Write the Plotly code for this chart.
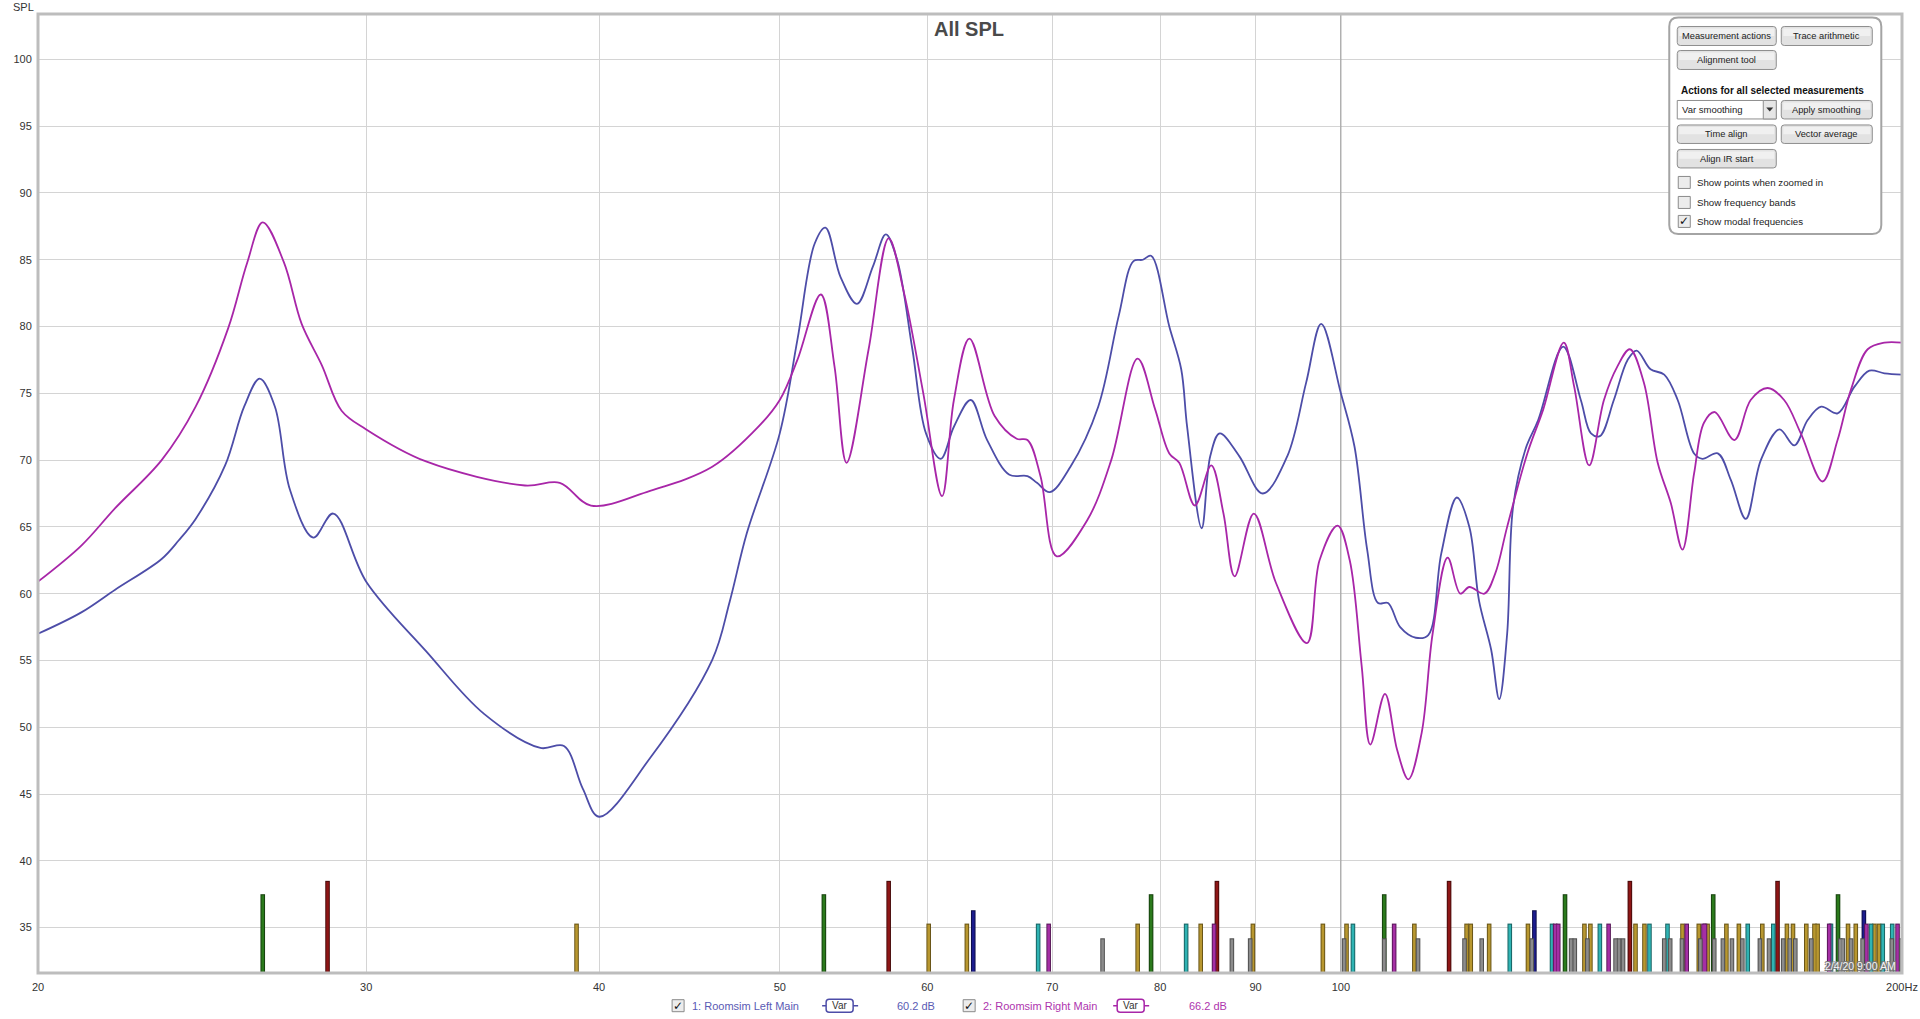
import plotly.graph_objects as go

# ---------------- data ----------------
left_freq = [20.0, 21.1, 22.0, 23.3, 23.8, 24.3, 25.2, 25.8, 26.3, 26.8, 27.3, 28.1, 28.8, 30.0, 32.3, 34.7,
             37.2, 38.3, 39.2, 40.0, 42.6, 46.0, 47.0, 48.0, 50.0, 51.1, 52.2, 52.9, 53.9, 55.0, 56.1, 57.0,
             57.8, 58.9, 59.9, 61.0, 62.0, 63.3, 64.6, 66.4, 67.9, 68.7, 69.8, 71.6, 74.1, 76.0, 77.4,
             78.3, 79.1, 80.9, 82.1, 82.7, 84.2, 85.1, 86.1, 88.2, 90.8, 93.6, 95.8, 97.6, 100.0, 101.7,
             103.3, 104.7, 106.0, 107.6, 109.7, 111.4, 113.2, 115.4, 117.2, 118.6, 120.4, 121.6, 122.8,
             123.7, 125.6, 127.6, 131.6, 134.5, 136.2, 137.7, 140.1, 142.5, 144.1, 146.6, 149.1, 151.6,
             154.7, 156.3, 159.3, 161.9, 164.9, 168.0, 171.9, 175.1, 178.0, 181.0, 184.7, 188.6, 192.1,
             195.7, 200.0]
left_spl = [57.0, 58.6, 60.3, 62.6, 64.0, 65.6, 69.6, 74.0, 76.1, 74.0, 67.8, 64.2, 66.0, 60.9, 55.7, 51.0,
            48.45, 48.6, 45.4, 43.3, 47.7, 55.05, 59.4, 64.5, 72.0, 79.0, 86.2, 87.4, 83.7, 81.7, 84.5, 86.9,
            85.0, 78.3, 72.0, 70.1, 72.5, 74.5, 71.5, 68.9, 68.8, 68.3, 67.6, 69.5, 74.0, 80.8, 84.9,
            85.0, 85.3, 80.0, 76.8, 72.5, 64.9, 70.3, 72.0, 70.3, 67.5, 70.3, 75.8, 80.2, 75.0, 71.0,
            63.3, 59.3, 59.3, 57.5, 56.7, 56.9, 63.0, 67.2, 65.0, 59.5, 55.8, 52.1, 57.0,
            66.5, 70.8, 73.0, 78.5, 74.5, 72.0, 71.8, 74.5, 77.5, 78.2, 76.8, 76.4, 74.5,
            70.5, 70.1, 70.5, 68.5, 65.6, 70.0, 72.3, 71.1, 73.0, 74.0, 73.5, 75.5, 76.7,
            76.5, 76.4]

right_freq = [20.0, 21.1, 22.0, 23.3, 24.3, 25.3, 25.9, 26.4, 27.1, 27.7, 28.4, 29.1, 30.0, 32.3, 36.5,
              38.1, 39.6, 42.6, 46.0, 48.7, 50.0, 51.1, 52.6, 53.5, 54.3, 55.8, 57.2, 58.3, 59.7, 61.1,
              62.0, 63.2, 65.2, 67.0, 67.9, 69.0, 70.4, 73.1, 75.3, 77.8, 79.5, 80.9, 81.9, 83.5, 85.2,
              86.5, 87.7, 89.8, 92.3, 95.9, 97.4, 99.6, 101.1, 102.6, 103.7, 105.6, 107.2, 108.7, 110.5,
              112.0, 114.1, 115.9, 117.2, 119.4, 121.0, 122.8, 125.9, 128.4, 131.7, 133.4, 135.9, 138.4,
              140.7, 142.9, 145.4, 147.9, 150.3, 152.5, 154.7, 156.6, 158.7, 162.6, 165.9, 169.4, 172.9,
              176.5, 181.3, 184.7, 187.8, 191.7, 195.7, 200.0]
right_spl = [60.9, 63.6, 66.4, 70.0, 74.0, 79.9, 84.8, 87.8, 84.8, 80.2, 77.1, 73.7, 72.3, 69.9, 68.1,
             68.3, 66.6, 67.7, 69.5, 72.5, 74.5, 77.5, 82.4, 77.0, 69.8, 78.3, 86.6, 82.5, 75.0, 67.3,
             74.5, 79.1, 73.3, 71.6, 71.5, 68.8, 62.8, 65.5, 70.0, 77.6, 73.8, 70.5, 69.8, 66.6, 69.6,
             66.0, 61.3, 66.0, 60.8, 56.3, 62.5, 65.1, 62.5, 54.6, 48.7, 52.5, 48.3, 46.1, 49.6,
             57.0, 62.7, 60.0, 60.5, 60.0, 61.5, 65.0, 70.5, 73.8, 78.8, 75.5, 69.6, 74.5,
             77.0, 78.3, 75.8, 69.8, 66.8, 63.3, 69.0, 72.8, 73.6, 71.5, 74.5, 75.4, 74.5,
             72.0, 68.4, 71.5, 75.3, 78.3, 78.8, 78.8]

# modal frequencies (Hz), grouped by mode type as coloured in the chart
modes_axial_red = [28.6, 57.2, 85.8, 114.3, 142.9, 171.5]
modes_axial_green = [26.4, 52.8, 79.1, 105.5, 131.9, 158.4, 184.8]
modes_axial_navy = [63.5, 127.0, 190.8]
modes_tan_gold = [38.9, 60.1, 63.0, 77.8, 84.1, 89.7, 97.8, 100.7, 109.5, 116.8, 117.4, 120.1, 126.0,
                  135.1, 136.1, 143.9, 145.5, 152.5, 155.6, 157.3, 161.0, 163.5, 168.3, 173.5, 174.8,
                  177.7, 179.5, 180.2, 187.1, 188.9, 193.3, 194.4]
modes_tan_cyan = [68.8, 82.6, 101.5, 123.2, 129.8, 137.7, 146.4, 149.7, 165.3, 170.6, 183.2, 192.5,
                  195.3, 197.6]
modes_tan_magenta = [69.7, 85.5, 106.8, 130.3, 130.8, 139.2, 153.3, 156.5, 156.8, 182.8, 191.4, 198.9]
modes_oblique_gray = [74.5, 87.4, 89.4, 100.4, 105.5, 110.0, 116.5, 119.0, 126.6, 132.9, 133.5, 135.6,
                      140.4, 141.0, 141.7, 149.1, 150.2, 152.4, 155.9, 158.6, 160.3, 162.1, 164.2,
                      167.8, 169.7, 172.7, 174.1, 175.3, 178.8, 185.3, 185.9, 187.8, 190.5, 197.5, 199.8]

# marker level (dB) each mode type is drawn to
mode_levels = {"red": 38.5, "green": 37.5, "navy": 36.3, "gold": 35.3, "cyan": 35.3,
               "magenta": 35.3, "gray": 34.2}

x_tick_vals = [20, 30, 40, 50, 60, 70, 80, 90, 100, 200]
x_tick_text = ["20", "30", "40", "50", "60", "70", "80", "90", "100", "200Hz"]
y_tick_vals = [35, 40, 45, 50, 55, 60, 65, 70, 75, 80, 85, 90, 95, 100]

legend_names = ["1: Roomsim Left Main", "2: Roomsim Right Main"]
legend_levels = ["60.2 dB", "66.2 dB"]

# ---------------- layout geometry ----------------
W, H = 1920, 1019
L, R, T, B = 38, 1901.7, 14, 973.3
PW, PH = R - L, B - T
Y_MIN, Y_MAX = 31.6, 103.4

BLUE = "#4d4da8"
MAG = "#a826a8"
FONT = "Liberation Sans, Arial, sans-serif"


def X(px):
    return (px - L) / PW


def Y(py):
    return (B - py) / PH


def rr_path(x0, y0, x1, y1, r):
    def p(x, y):
        return f"{X(x):.6f},{Y(y):.6f}"
    return (f"M{p(x0 + r, y0)} L{p(x1 - r, y0)} Q{p(x1, y0)} {p(x1, y0 + r)} "
            f"L{p(x1, y1 - r)} Q{p(x1, y1)} {p(x1 - r, y1)} L{p(x0 + r, y1)} "
            f"Q{p(x0, y1)} {p(x0, y1 - r)} L{p(x0, y0 + r)} Q{p(x0, y0)} {p(x0 + r, y0)} Z")


fig = go.Figure()

# 100 Hz darker grid line
fig.add_trace(go.Scatter(x=[100, 100], y=[Y_MIN - 1, Y_MAX + 1], mode="lines",
                         line=dict(color="#9a9a9a", width=1), hoverinfo="skip"))

# modal frequency bars
groups = [
    (modes_axial_red, "red", "#8e1616", "#4a0c0c"),
    (modes_axial_green, "green", "#2b7a1c", "#17420f"),
    (modes_axial_navy, "navy", "#1c1c8e", "#0e0e4a"),
    (modes_tan_gold, "gold", "#b8972f", "#6a5618"),
    (modes_tan_cyan, "cyan", "#2fb3b3", "#1a6464"),
    (modes_tan_magenta, "magenta", "#a52fa5", "#5a185a"),
    (modes_oblique_gray, "gray", "#8c8c8c", "#505050"),
]
for freqs, key, fill, edge in groups:
    xs, ys_edge, ys_fill = [], [], []
    for f in freqs:
        xs += [f, f, None]
        ys_edge += [Y_MIN - 2, mode_levels[key], None]
        ys_fill += [Y_MIN - 2, mode_levels[key] - 0.08, None]
    fig.add_trace(go.Scatter(x=xs, y=ys_edge, mode="lines", line=dict(color=edge, width=4.6),
                             hoverinfo="skip"))
    fig.add_trace(go.Scatter(x=xs, y=ys_fill, mode="lines", line=dict(color=fill, width=2.6),
                             hoverinfo="skip"))

# response curves
fig.add_trace(go.Scatter(x=left_freq, y=left_spl, mode="lines", name=legend_names[0],
                         line=dict(color=BLUE, width=1.8, shape="spline", smoothing=1.0)))
fig.add_trace(go.Scatter(x=right_freq, y=right_spl, mode="lines", name=legend_names[1],
                         line=dict(color=MAG, width=1.8, shape="spline", smoothing=1.0)))

shapes = []
annotations = []

# plot border
shapes.append(dict(type="rect", xref="paper", yref="paper", x0=0, x1=1, y0=0, y1=1,
                   line=dict(color="#bdbdbd", width=3), layer="above"))

# control panel
shapes.append(dict(type="path", xref="paper", yref="paper", path=rr_path(1669, 17.5, 1881, 234, 9),
                   fillcolor="white", line=dict(color="#a4a4a4", width=2), layer="above"))


def button(x0, y0, x1, y1, text):
    shapes.append(dict(type="path", xref="paper", yref="paper", path=rr_path(x0, y0, x1, y1, 3),
                       fillcolor="#e2e2e2", line=dict(color="#8e8e8e", width=1), layer="above"))
    shapes.append(dict(type="rect", xref="paper", yref="paper", x0=X(x0 + 2), x1=X(x1 - 2),
                       y0=Y(y0 + 2), y1=Y((y0 + y1) / 2), fillcolor="#f0f0f0", line=dict(width=0),
                       layer="above"))
    annotations.append(dict(xref="paper", yref="paper", x=X((x0 + x1) / 2), y=Y((y0 + y1) / 2),
                            text=text, showarrow=False, xanchor="center", yanchor="middle",
                            font=dict(family=FONT, size=9.3, color="#222")))


button(1677, 26.5, 1776, 45.5, "Measurement actions")
button(1781, 26.5, 1872, 45.5, "Trace arithmetic")
button(1677, 50.5, 1776, 69.5, "Alignment tool")
annotations.append(dict(xref="paper", yref="paper", x=X(1679), y=Y(90.5),
                        text="<b>Actions for all selected measurements</b>",
                        showarrow=False, xanchor="left", yanchor="middle",
                        font=dict(family=FONT, size=10, color="#111")))
# dropdown
shapes.append(dict(type="rect", xref="paper", yref="paper", x0=X(1677), x1=X(1776), y0=Y(100.5), y1=Y(119),
                   fillcolor="white", line=dict(color="#8e8e8e", width=1), layer="above"))
shapes.append(dict(type="rect", xref="paper", yref="paper", x0=X(1763), x1=X(1776), y0=Y(100.5), y1=Y(119),
                   fillcolor="#e6e6e6", line=dict(color="#8e8e8e", width=1), layer="above"))
shapes.append(dict(type="path", xref="paper", yref="paper",
                   path=f"M{X(1766):.6f},{Y(107.5):.6f} L{X(1773):.6f},{Y(107.5):.6f} L{X(1769.5):.6f},{Y(111.5):.6f} Z",
                   fillcolor="#333", line=dict(width=0), layer="above"))
annotations.append(dict(xref="paper", yref="paper", x=X(1680), y=Y(110), text="Var smoothing",
                        showarrow=False, xanchor="left", yanchor="middle",
                        font=dict(family=FONT, size=9.5, color="#222")))
button(1781, 100.5, 1872, 119, "Apply smoothing")
button(1677, 125, 1776, 143.5, "Time align")
button(1781, 125, 1872, 143.5, "Vector average")
button(1677, 149.5, 1776, 168, "Align IR start")


def checkbox(x0, yc, checked, size=12):
    shapes.append(dict(type="rect", xref="paper", yref="paper", x0=X(x0), x1=X(x0 + size),
                       y0=Y(yc + size / 2), y1=Y(yc - size / 2), fillcolor="#ececec",
                       line=dict(color="#8a8a8a", width=1), layer="above"))
    if checked:
        annotations.append(dict(xref="paper", yref="paper", x=X(x0 + size / 2), y=Y(yc), text="✓",
                                showarrow=False, xanchor="center", yanchor="middle",
                                font=dict(family="DejaVu Sans", size=12, color="#111")))


for yc, lab, chk in [(182.5, "Show points when zoomed in", False),
                     (202.5, "Show frequency bands", False),
                     (221.5, "Show modal frequencies", True)]:
    checkbox(1678, yc, chk)
    annotations.append(dict(xref="paper", yref="paper", x=X(1695), y=Y(yc), text=lab, showarrow=False,
                            xanchor="left", yanchor="middle", font=dict(family=FONT, size=9.7, color="#222")))

# title and axis label
annotations.append(dict(xref="paper", yref="paper", x=X(969), y=Y(29), text="<b>All SPL</b>", showarrow=False,
                        xanchor="center", yanchor="middle", font=dict(family=FONT, size=20, color="#4a4a4a")))
annotations.append(dict(xref="paper", yref="paper", x=X(23.5), y=Y(7), text="SPL", showarrow=False,
                        xanchor="center", yanchor="middle", font=dict(family=FONT, size=11, color="#333")))

# timestamp
annotations.append(dict(xref="paper", yref="paper", x=X(1898), y=Y(966), text="2/4/20 9:00 AM", showarrow=False,
                        xanchor="right", yanchor="middle",
                        font=dict(family=FONT, size=10.5, color="#f4f4f4",
                                  shadow="1px 1px 0 #777, -1px -1px 0 #777, 1px -1px 0 #777, -1px 1px 0 #777")))

# bottom legend
legend_rows = [(672, 690, 822, 895, BLUE, "#5a5ab4"), (963, 981, 1113, 1187, MAG, "#ae34ae")]
for i, (cbx, tx, vx, dbx, col, tcol) in enumerate(legend_rows):
    checkbox(cbx, 1006, True, size=12)
    annotations.append(dict(xref="paper", yref="paper", x=X(tx), y=Y(1006), text=legend_names[i], showarrow=False,
                            xanchor="left", yanchor="middle", font=dict(family=FONT, size=11, color=tcol)))
    shapes.append(dict(type="line", xref="paper", yref="paper", x0=X(vx), x1=X(vx + 36), y0=Y(1006), y1=Y(1006),
                       line=dict(color=col, width=1.5)))
    shapes.append(dict(type="path", xref="paper", yref="paper", path=rr_path(vx + 4, 999.5, vx + 31, 1012.5, 3),
                       fillcolor="white", line=dict(color=col, width=1.5)))
    annotations.append(dict(xref="paper", yref="paper", x=X(vx + 17.5), y=Y(1006), text="Var", showarrow=False,
                            xanchor="center", yanchor="middle", font=dict(family=FONT, size=10, color="#333")))
    annotations.append(dict(xref="paper", yref="paper", x=X(dbx), y=Y(1006), text=legend_levels[i], showarrow=False,
                            xanchor="left", yanchor="middle", font=dict(family=FONT, size=11, color=tcol)))

fig.update_layout(
    width=W, height=H, autosize=False,
    margin=dict(l=L, r=W - R, t=T, b=H - B, pad=0, autoexpand=False),
    paper_bgcolor="white", plot_bgcolor="white",
    showlegend=False,
    shapes=shapes, annotations=annotations,
    font=dict(family=FONT, size=11, color="#333"),
)
fig.update_xaxes(type="log", range=[1.30103, 2.30103], tickvals=x_tick_vals, ticktext=x_tick_text,
                 showgrid=True, gridcolor="#d4d4d4", gridwidth=1, zeroline=False, showline=False,
                 ticks="outside", ticklen=4, tickcolor="rgba(0,0,0,0)", automargin=False,
                 tickfont=dict(family=FONT, size=11, color="#333"))
fig.update_yaxes(range=[Y_MIN, Y_MAX], tickvals=y_tick_vals, showgrid=True, gridcolor="#d4d4d4", gridwidth=1,
                 zeroline=False, showline=False, ticks="outside", ticklen=3, tickcolor="rgba(0,0,0,0)",
                 automargin=False, tickfont=dict(family=FONT, size=11, color="#333"))

fig.write_html("out.html", config={"displayModeBar": False, "responsive": False},
               default_width="1920px", default_height="1019px",
               post_script="document.body.style.margin='0';document.body.style.overflow='hidden';")
